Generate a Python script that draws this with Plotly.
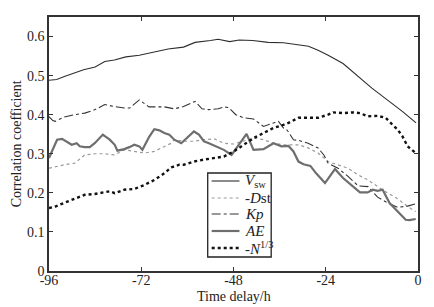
import plotly.graph_objects as go

# ---- data ----
vsw_x = [-96, -94, -92, -89, -87, -84, -81.5, -79, -76, -72.5, -68.5, -65, -61, -58, -54, -52, -49,
         -46.5, -43, -39, -35, -31, -28.5, -26, -23.5, -19.5, -15.5, -12, -8, -4, -0.5]
vsw_y = [0.488, 0.49, 0.498, 0.508, 0.515, 0.522, 0.536, 0.540, 0.548, 0.552, 0.56, 0.568, 0.573, 0.585,
         0.590, 0.593, 0.587, 0.591, 0.59, 0.585, 0.584, 0.579, 0.575, 0.565, 0.553, 0.531, 0.498, 0.468,
         0.438, 0.408, 0.379]

dst_x = [-96, -94.4, -92, -89.3, -86.7, -84, -81.5, -79, -76.4, -73.8, -71.2, -68.6, -66, -64.2, -63.4,
         -61, -58.3, -55.7, -53, -50.5, -48, -45.4, -42.8, -40.2, -37.6, -35, -31, -28.6, -26, -23.4,
         -20.8, -18.2, -15.6, -13, -10.5, -8, -5.3, -2.7, -0.6]
dst_y = [0.263, 0.267, 0.272, 0.276, 0.297, 0.30, 0.30, 0.297, 0.31, 0.306, 0.302, 0.306, 0.319, 0.327,
         0.336, 0.332, 0.332, 0.336, 0.338, 0.327, 0.325, 0.332, 0.340, 0.336, 0.327, 0.323, 0.323, 0.315,
         0.302, 0.280, 0.272, 0.263, 0.246, 0.233, 0.216, 0.200, 0.185, 0.165, 0.152]

kp_x = [-96, -95, -94.4, -92, -89.3, -86.7, -84, -81.5, -79, -76.4, -75, -72.5, -70, -66, -63.4, -61,
        -58, -56.2, -54.4, -52, -50.5, -49.2, -47.4, -45.4, -42.8, -40.2, -37.6, -36.3, -35, -34, -32.4,
        -31, -28.6, -26, -24.5, -23.4, -20.8, -18.2, -15.6, -13, -10.5, -8, -5.3, -2.7, -0.6]
kp_y = [0.395, 0.385, 0.383, 0.394, 0.40, 0.404, 0.413, 0.426, 0.421, 0.417, 0.417, 0.438, 0.420, 0.42,
        0.415, 0.421, 0.434, 0.415, 0.413, 0.415, 0.42, 0.418, 0.40, 0.392, 0.389, 0.370, 0.379, 0.383,
        0.366, 0.36, 0.336, 0.334, 0.327, 0.315, 0.297, 0.276, 0.263, 0.242, 0.218, 0.216, 0.189, 0.175,
        0.163, 0.166, 0.172]

ae_x = [-96, -95.2, -93.9, -92.6, -91.3, -90.1, -88.8, -88, -86.7, -85.4, -84.1, -82.8, -82, -80.2,
        -78.9, -78.2, -76.4, -75.1, -73.8, -72.5, -71.7, -69.9, -68.6, -67.3, -66, -64.7, -63.4, -61.6,
        -59.6, -58.3, -57, -55.7, -54.4, -53.1, -51.8, -50.5, -48.5, -44.6, -42.8, -40.2, -37.6, -35.5,
        -33.7, -32.4, -31.1, -29.8, -28, -26.5, -24.2, -21.6, -19.5, -16.9, -15.1, -13.1, -11.8, -10.5,
        -9.2, -7.4, -5.3, -3.2, -2.2, -0.6]
ae_y = [0.289, 0.306, 0.336, 0.338, 0.329, 0.323, 0.327, 0.319, 0.317, 0.317, 0.327, 0.340, 0.349, 0.336,
        0.323, 0.308, 0.312, 0.317, 0.323, 0.319, 0.31, 0.344, 0.363, 0.36, 0.353, 0.349, 0.336, 0.327,
        0.344, 0.357, 0.349, 0.332, 0.327, 0.322, 0.315, 0.31, 0.297, 0.351, 0.31, 0.312, 0.327, 0.319,
        0.32, 0.306, 0.28, 0.273, 0.269, 0.25, 0.225, 0.261, 0.238, 0.216, 0.201, 0.201, 0.208, 0.205,
        0.208, 0.174, 0.152, 0.131, 0.13, 0.133]

n_x = [-96, -94.4, -91.9, -89.3, -86.7, -84.1, -81.5, -80.2, -78.9, -76.4, -73.8, -71.2, -68.6, -66,
       -64.2, -62.1, -60.9, -58.3, -55.7, -53.1, -50.5, -47.9, -45.4, -42.8, -40.2, -37.6, -35, -33.7,
       -31.1, -28.6, -26, -23.4, -22.1, -19.5, -16.9, -15.1, -13.1, -10.5, -8.4, -6.6, -5.3, -4, -2.7, -0.6]
n_y = [0.161, 0.165, 0.175, 0.186, 0.195, 0.197, 0.202, 0.204, 0.199, 0.208, 0.21, 0.22, 0.233, 0.25,
       0.265, 0.272, 0.272, 0.28, 0.285, 0.289, 0.293, 0.306, 0.323, 0.34, 0.353, 0.366, 0.374, 0.379,
       0.392, 0.392, 0.392, 0.40, 0.406, 0.404, 0.406, 0.404, 0.396, 0.397, 0.392, 0.374, 0.362, 0.344,
       0.319, 0.302]

series_names = ["<i>V</i><sub>sw</sub>", "-<i>D</i>st", "<i>Kp</i>", "<i>AE</i>", "-<i>N</i><sup>1/3</sup>"]

x_ticks = [-96, -72, -48, -24, 0]
x_tick_text = ["-96", "-72", "-48", "-24", "0"]
y_ticks = [0, 0.1, 0.2, 0.3, 0.4, 0.5, 0.6]
y_tick_text = ["0", "0.1", "0.2", "0.3", "0.4", "0.5", "0.6"]

FONT = "Liberation Serif"

styles = [
    dict(color="#2e2e2e", width=1.1, dash="solid"),
    dict(color="#9a9a9a", width=1.2, dash="dot"),
    dict(color="#333333", width=1.1, dash="dashdot"),
    dict(color="#6e6e6e", width=2.2, dash="solid"),
    dict(color="#111111", width=2.4, dash="dot"),
]

fig = go.Figure()
for (xs, ys), name, st in zip([(vsw_x, vsw_y), (dst_x, dst_y), (kp_x, kp_y), (ae_x, ae_y), (n_x, n_y)],
                              series_names, styles):
    fig.add_trace(go.Scatter(x=xs, y=ys, mode="lines", name=name, line=st, showlegend=False))

# ---- legend drawn as a boxed key (paper coordinates) ----
W, H = 434, 307
L, R, T, B = 49, 13, 17, 36
pw, ph = W - L - R, H - T - B


def px2x(p):
    return (p - L) / pw


def py2y(p):
    return (H - B - p) / ph


shapes = [dict(type="rect", xref="paper", yref="paper",
               x0=px2x(209), x1=px2x(273), y0=py2y(257), y1=py2y(173),
               line=dict(color="#222", width=1.3), fillcolor="white", layer="above")]
annotations = []
row_y = [181, 198, 214, 231, 248]
for ry, name, st in zip(row_y, series_names, styles):
    shapes.append(dict(type="line", xref="paper", yref="paper",
                       x0=px2x(213), x1=px2x(241), y0=py2y(ry), y1=py2y(ry),
                       line=st, layer="above"))
    annotations.append(dict(xref="paper", yref="paper", x=px2x(245), y=py2y(ry), text=name,
                            showarrow=False, xanchor="left", yanchor="middle",
                            font=dict(family=FONT, size=15, color="#222")))

# axis titles
annotations.append(dict(xref="paper", yref="paper", x=0.5, y=py2y(296), text="Time delay/h",
                        showarrow=False, xanchor="center", yanchor="middle",
                        font=dict(family=FONT, size=14, color="#222")))
annotations.append(dict(xref="paper", yref="paper", x=px2x(16), y=0.5, text="Correlation coefficient",
                        showarrow=False, xanchor="center", yanchor="middle", textangle=-90,
                        font=dict(family=FONT, size=14, color="#222")))

axis_common = dict(showline=True, linecolor="#333", linewidth=1.5, mirror="ticks",
                   ticks="inside", ticklen=4, tickcolor="#333", showgrid=False, zeroline=False,
                   tickfont=dict(family=FONT, size=14, color="#222"))

fig.update_layout(
    width=W, height=H,
    margin=dict(l=L, r=R, t=T, b=B),
    paper_bgcolor="white", plot_bgcolor="white",
    font=dict(family=FONT, size=14, color="#222"),
    xaxis=dict(range=[-96, 0], tickvals=x_ticks, ticktext=x_tick_text, ticklabelstandoff=-5,
               **axis_common),
    yaxis=dict(range=[0, 0.65], tickvals=y_ticks, ticktext=y_tick_text, **axis_common),
    shapes=shapes,
    annotations=annotations,
    showlegend=False,
)

fig.write_html("out.html", config={"displayModeBar": False},
               post_script="document.body.style.margin='0';document.body.style.overflow='hidden';")
